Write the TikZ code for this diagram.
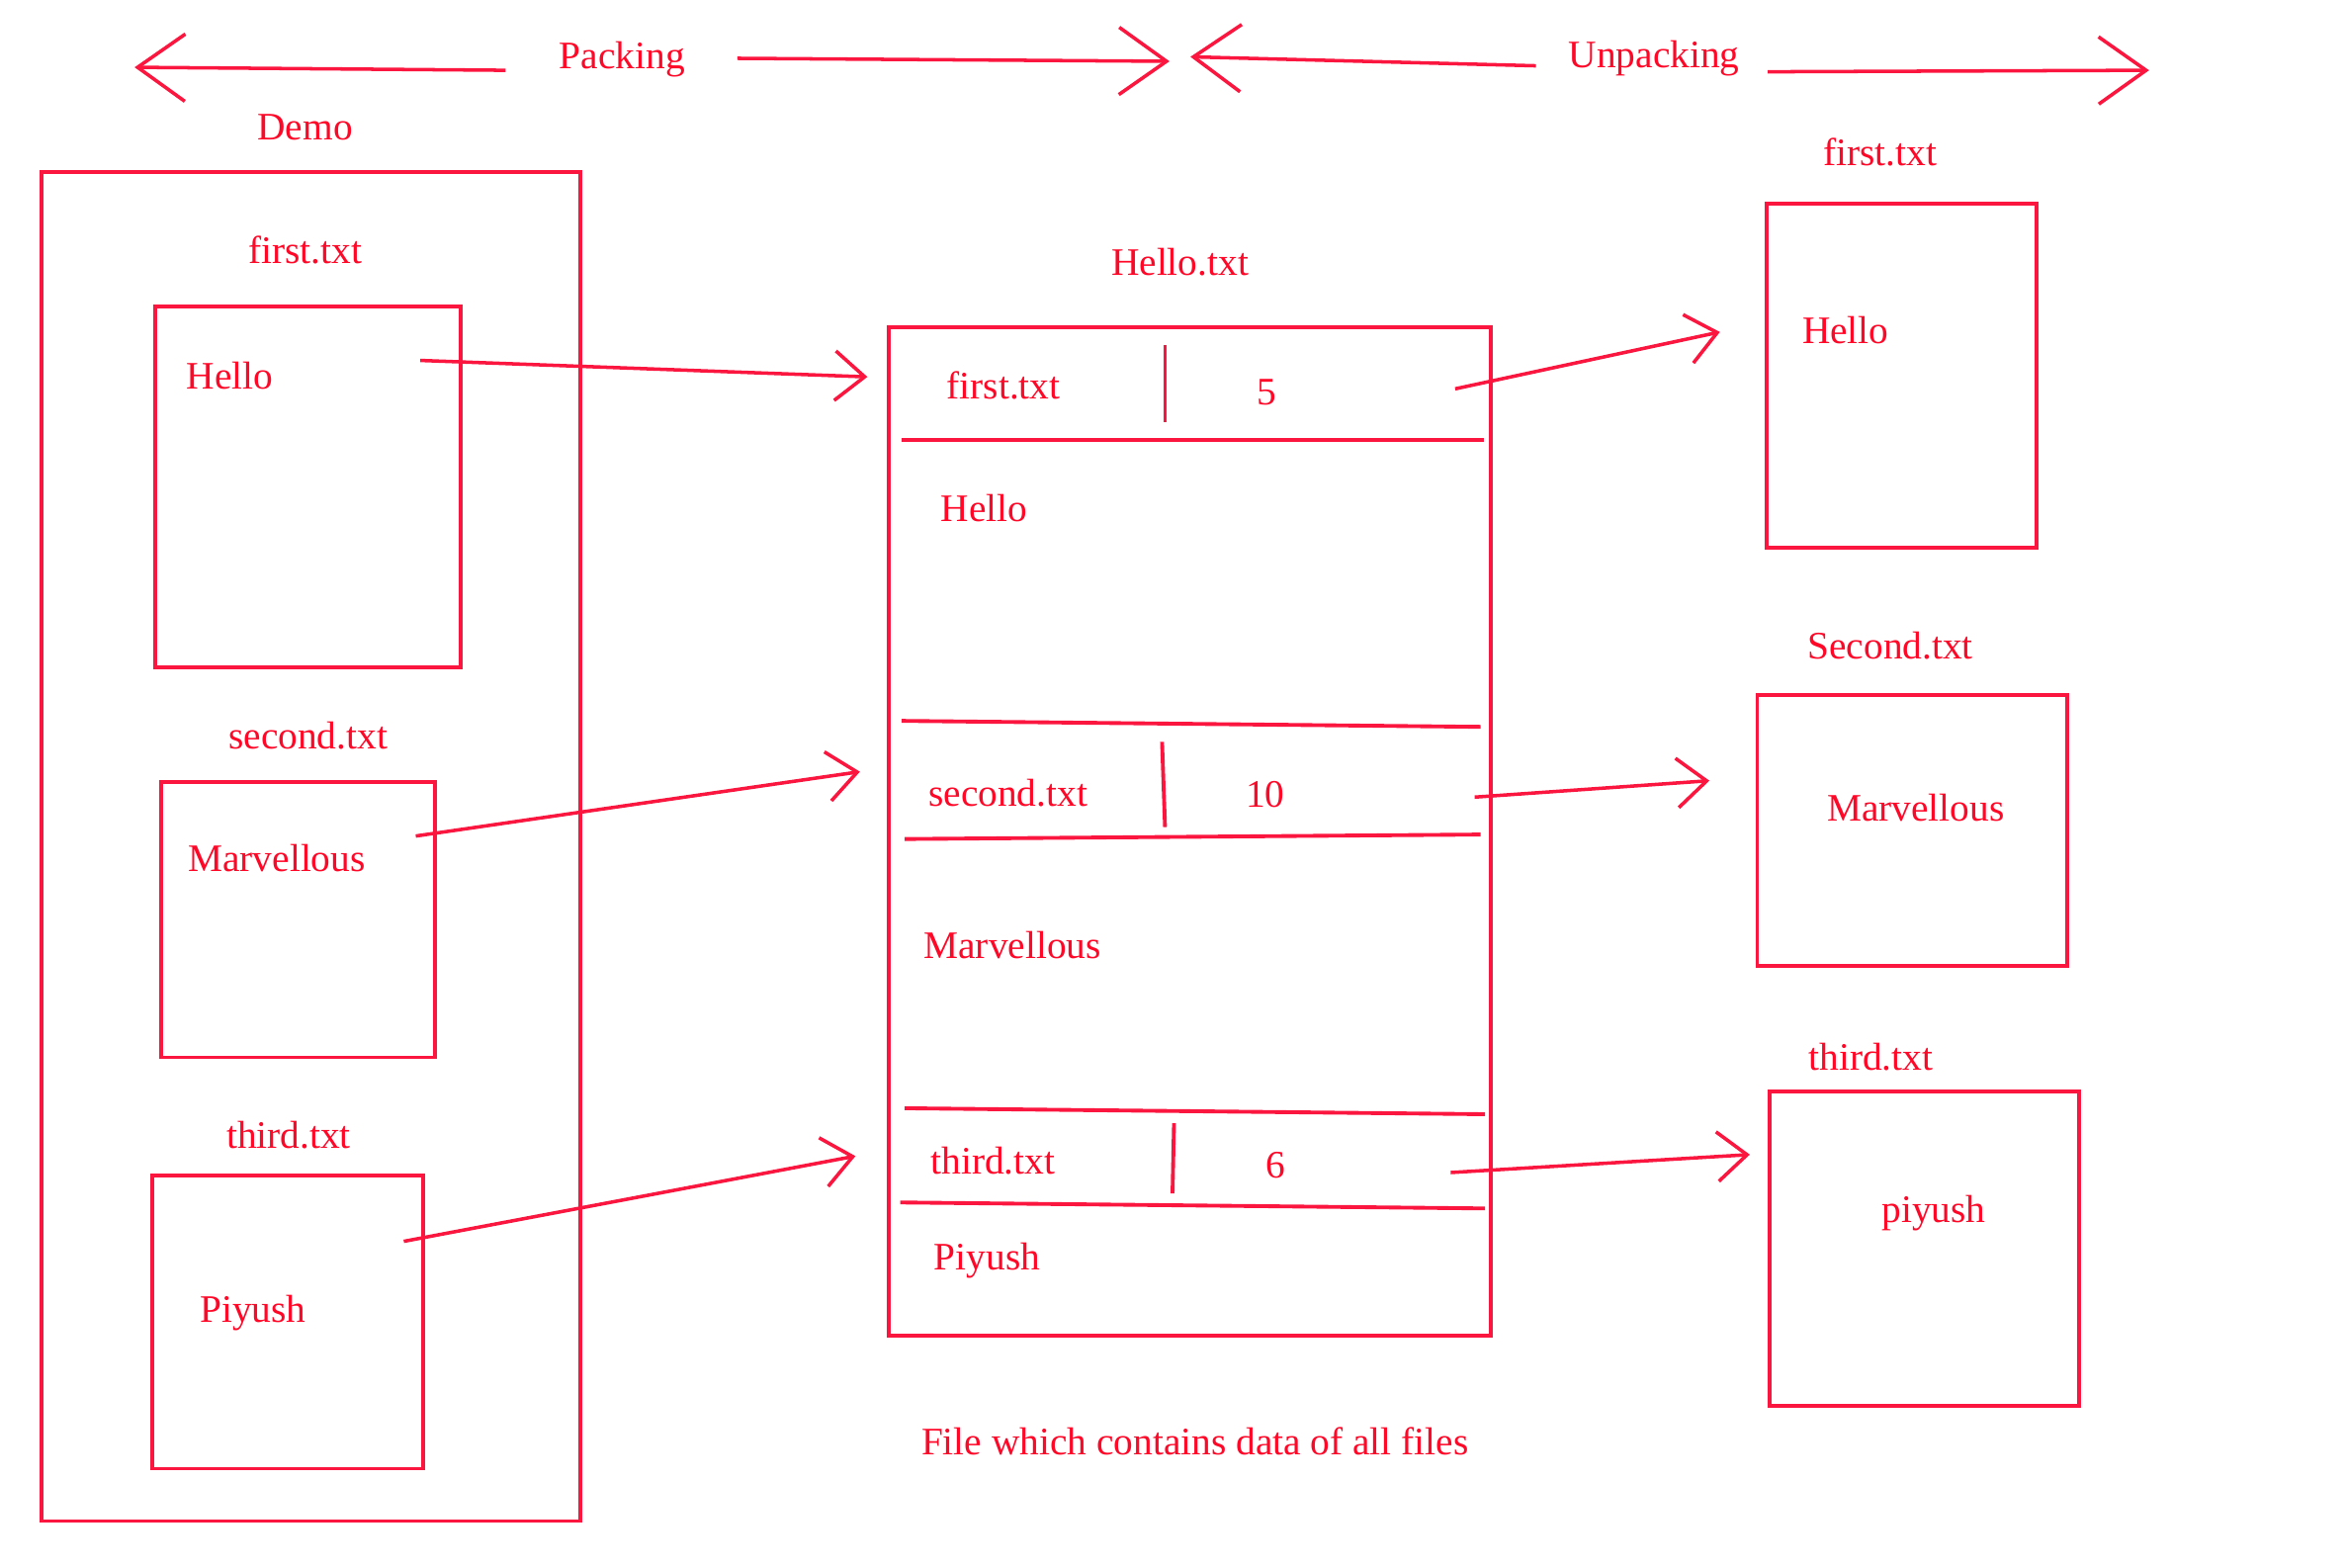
\documentclass[tikz,border=0pt]{standalone}
\usepackage{fontspec}
\setmainfont{Liberation Serif}
\usetikzlibrary{arrows.meta}
\definecolor{PenCol}{RGB}{250,22,62}
\definecolor{InkCol}{RGB}{255,8,40}
\tikzstyle{lbl} = [text=InkCol, font=\fontsize{11.2}{13}\selectfont, inner sep=1pt]
\tikzstyle{box} = [draw=PenCol, line width=1.1pt]
\tikzstyle{bigarr} = [draw=PenCol, line width=1pt, -{Straight Barb[length=0.48cm,width=0.68cm]}]
\tikzstyle{arr} = [draw=PenCol, line width=1pt, -{Straight Barb[length=0.3cm,width=0.5cm]}]

\begin{document}
\begin{tikzpicture}[x=0.015128cm, y=-0.015128cm]
\useasboundingbox (0,0) rectangle (1568,1048);

% top labels
\node[lbl] (pack) at (416,40) {Packing};
\node[lbl] (unpack) at (1106,39) {Unpacking};
\coordinate (packL0) at (338,47);  \coordinate (packL1) at (90,45);
\coordinate (packR0) at (493,39);  \coordinate (packR1) at (782,41);
\coordinate (unpL0) at (1027,44);  \coordinate (unpL1) at (796,38);
\coordinate (unpR0) at (1182,48);  \coordinate (unpR1) at (1437,47);
\draw[bigarr] (packL0) -- (packL1);
\draw[bigarr] (packR0) -- (packR1);
\draw[bigarr] (unpL0) -- (unpL1);
\draw[bigarr] (unpR0) -- (unpR1);

% Demo folder
\node[lbl] (demo) at (204,85) {Demo};
\draw[box] (28,115) rectangle (388,1017);

\node[lbl] at (204,167) {first.txt};
\draw[box] (104,205) rectangle (308,446);
\node[lbl,anchor=west] (srcA) at (122,251) {Hello};

\node[lbl] at (206,492) {second.txt};
\draw[box] (108,523) rectangle (291,707);
\node[lbl,anchor=west] (srcB) at (123,574) {Marvellous};

\node[lbl] at (193,759) {third.txt};
\draw[box] (102,786) rectangle (283,982);
\node[lbl,anchor=west] (srcC) at (131,878) {Piyush};

% packed file
\node[lbl] (packed) at (789,175) {Hello.txt};
\draw[box] (594,219) rectangle (997,893);

\node[lbl] (hdrA) at (671,258) {first.txt};
\node[lbl] (lenA) at (847,262) {5};
\draw[box] (779,231) -- (779,282);
\draw[box] (603,294) -- (992,294);
\node[lbl] (datA) at (658,340) {Hello};
\draw[box] (603,482) -- (990,486);

\node[lbl] (hdrB) at (674,530) {second.txt};
\node[lbl] (lenB) at (846,531) {10};
\draw[box] (777,496) -- (779,553);
\draw[box] (605,561) -- (990,558);
\node[lbl] (datB) at (677,632) {Marvellous};
\draw[box] (605,741) -- (993,745);

\node[lbl] (hdrC) at (664,776) {third.txt};
\node[lbl] (lenC) at (853,779) {6};
\draw[box] (785,751) -- (784,798);
\draw[box] (602,804) -- (993,808);
\node[lbl] (datC) at (660,843) {Piyush};

\node[lbl] (note) at (799,964) {File which contains data of all files};

% unpacked files
\node[lbl] at (1257,102) {first.txt};
\draw[box] (1181,136) rectangle (1362,366);
\node[lbl] (dstA) at (1234,221) {Hello};

\node[lbl] at (1264,432) {Second.txt};
\draw[box] (1175,465) rectangle (1382,646);
\node[lbl] (dstB) at (1281,540) {Marvellous};

\node[lbl] at (1251,707) {third.txt};
\draw[box] (1183,730) rectangle (1390,940);
\node[lbl] (dstC) at (1293,811) {piyush};

% packing connectors
\coordinate (pA0) at (281,241); \coordinate (pA1) at (580,252);
\coordinate (pB0) at (278,559); \coordinate (pB1) at (575,516);
\coordinate (pC0) at (270,830); \coordinate (pC1) at (572,773);
\draw[arr] (pA0) -- (pA1);
\draw[arr] (pB0) -- (pB1);
\draw[arr] (pC0) -- (pC1);

% unpacking connectors
\coordinate (uA0) at (973,260); \coordinate (uA1) at (1150,222);
\coordinate (uB0) at (986,533); \coordinate (uB1) at (1143,522);
\coordinate (uC0) at (970,784); \coordinate (uC1) at (1170,772);
\draw[arr] (uA0) -- (uA1);
\draw[arr] (uB0) -- (uB1);
\draw[arr] (uC0) -- (uC1);

\end{tikzpicture}
\end{document}
